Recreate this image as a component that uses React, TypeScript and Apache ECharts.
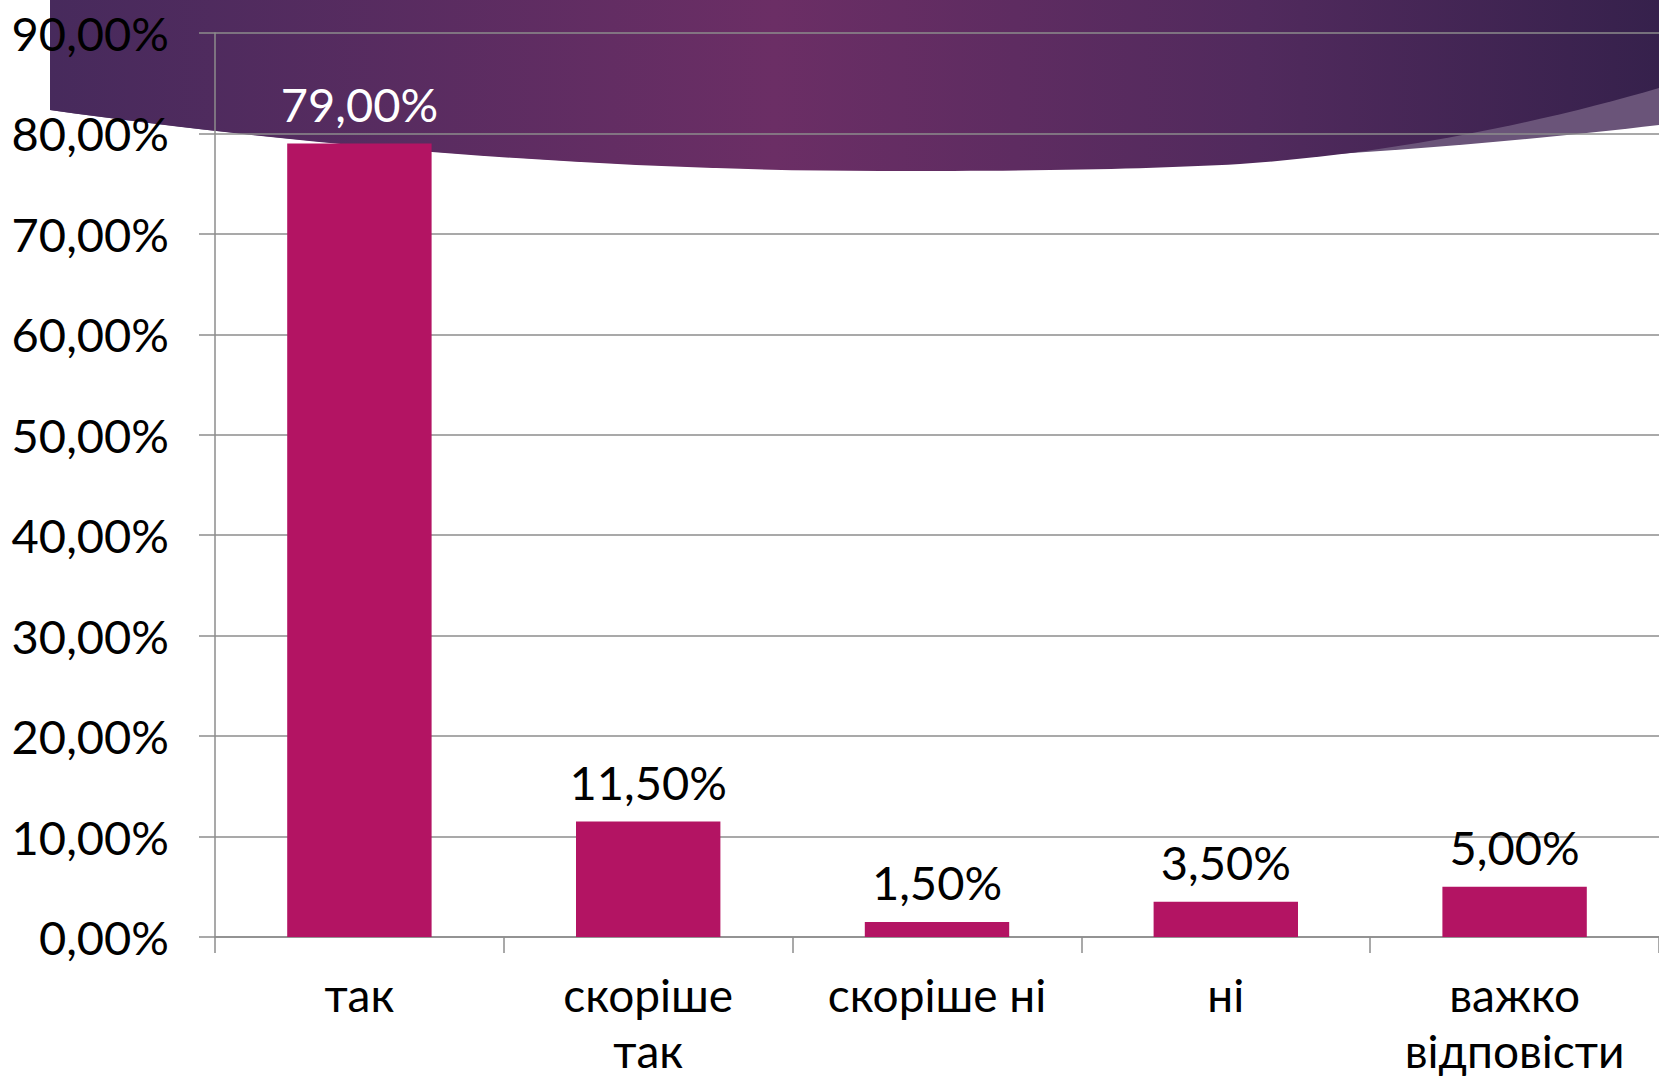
import React, { useEffect, useRef } from "react";
import * as echarts from "echarts";

const categories = ["так", "скоріше\nтак", "скоріше ні", "ні", "важко\nвідповісти"];
const values = [0.79, 0.115, 0.015, 0.035, 0.05];
const yTicks = [0, 0.1, 0.2, 0.3, 0.4, 0.5, 0.6, 0.7, 0.8, 0.9];

const lightBanner =
  "M50,0 L1659,0 L1659,125 C1450,150 1150,170 880,170 C600,170 300,145 50,110 Z";
const darkBanner =
  "M50,0 L1659,0 L1659,88 C1550,120 1400,153 1240,164 C1150,169 1050,171 880,171 C600,171 300,145 50,110 Z";

echarts.graphic.registerShape("bannerLight", echarts.graphic.extendPath(lightBanner, {}));
echarts.graphic.registerShape("bannerDark", echarts.graphic.extendPath(darkBanner, {}));

const fmt = (v: number) => (v * 100).toFixed(2).replace(".", ",") + "%";
const FONT = "Lato, 'DejaVu Sans', sans-serif";

export default function App() {
  const ref = useRef<HTMLDivElement>(null);
  useEffect(() => {
    if (!ref.current) return;
    const chart = echarts.init(ref.current, undefined, { renderer: "svg" });
    chart.setOption({
      animation: false,
      backgroundColor: "#ffffff",
      graphic: [
        {
          type: "bannerLight",
          x: 0,
          y: 0,
          z: -10,
          silent: true,
          style: { fill: "#6A5479" },
        },
        {
          type: "bannerDark",
          x: 0,
          y: 0,
          z: -9,
          silent: true,
          style: {
            fill: new echarts.graphic.LinearGradient(0, 0, 1, 0, [
              { offset: 0, color: "#472A5C" },
              { offset: 0.45, color: "#6B2E65" },
              { offset: 0.75, color: "#512A5D" },
              { offset: 1, color: "#36214C" },
            ]),
          },
        },
      ],
      grid: { left: 215, top: 33, width: 1451, height: 904 },
      xAxis: {
        type: "category",
        data: categories,
        axisLine: { show: true, lineStyle: { color: "#8C8C8C", width: 1.5 } },
        axisTick: { show: true, length: 16, lineStyle: { color: "#8C8C8C", width: 1.5 } },
        axisLabel: {
          interval: 0,
          margin: 29,
          color: "#000",
          fontFamily: FONT,
          fontSize: 46,
          lineHeight: 56,
        },
      },
      yAxis: {
        type: "value",
        min: 0,
        max: 0.9,
        interval: 0.1,
        axisLine: { show: true, lineStyle: { color: "#8C8C8C", width: 1.5 } },
        axisTick: { show: true, length: 16, lineStyle: { color: "#8C8C8C", width: 1.5 } },
        splitLine: { show: true, lineStyle: { color: "#8C8C8C", width: 1.5 } },
        axisLabel: {
          margin: 46,
          color: "#000",
          fontFamily: FONT,
          fontSize: 47,
          formatter: (v: number) => (yTicks.some((t) => Math.abs(t - v) < 1e-9) ? fmt(v) : ""),
        },
      },
      series: [
        {
          type: "bar",
          barWidth: "50%",
          z: 5,
          itemStyle: { color: "#B31463" },
          label: {
            show: true,
            position: "top",
            distance: 16,
            color: "#000",
            fontFamily: FONT,
            fontSize: 47,
            formatter: (p: any) => fmt(p.value),
          },
          data: values.map((v, i) =>
            i === 0 ? { value: v, label: { color: "#ffffff" } } : { value: v }
          ),
        },
      ],
    });
    return () => chart.dispose();
  }, []);
  return (
    <div
      ref={ref}
      style={{ position: "fixed", left: 0, top: 0, width: 1659, height: 1081 }}
    />
  );
}
